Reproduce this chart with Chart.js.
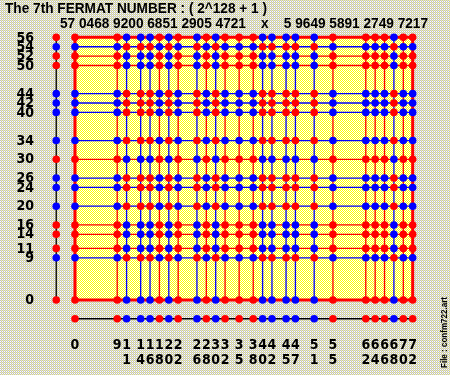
<!DOCTYPE html>
<html>
<head>
<meta charset="utf-8">
<script src="https://cdn.jsdelivr.net/npm/chart.js@4.4.1/dist/chart.umd.min.js"></script>
<style>
  body { margin: 0; background: #d8d8c8; }
  canvas { display: block; }
</style>
</head>
<body>
<canvas id="mycanvas" width="450" height="375"></canvas>
<script>
// signed binary digits (NAF) of the two factors of F7
var titleText = 'The 7th FERMAT NUMBER : ( 2^128 + 1 )';
var factorText = '57 0468 9200 6851 2905 4721    x    5 9649 5891 2749 7217';
var fileText = 'File : confm722.art';

// vertical axis: 5 9649 5891 2749 7217
var rows = [0, 9, 11, 14, 16, 20, 24, 26, 30, 34, 40, 42, 44, 50, 52, 54, 56];
var rowSigns = [1, -1, 1, 1, 1, -1, -1, -1, 1, -1, -1, -1, -1, 1, 1, -1, 1];

// horizontal axis: 57 0468 9200 6851 2905 4721
var cols = [0, 9, 11, 14, 16, 18, 20, 22, 26, 28, 30, 32, 35, 38, 40, 42, 45, 47, 51, 55, 62, 64, 66, 68, 70, 72];
var colSigns = [1, 1, -1, -1, -1, 1, -1, 1, -1, 1, -1, 1, 1, 1, -1, -1, -1, -1, -1, 1, 1, 1, 1, -1, 1, 1];

var sideOffset = -4;

var RED = '#ff0000', BLUE = '#0000ff';
function col(s) { return s > 0 ? RED : BLUE; }

// layout constants (pixels per unit, origin)
var K = 4.69, X0 = 75, Y0 = 300;
var XMIN = -10, XMAX = 78, YMIN = -10, YMAX = 60;

var xLast = cols[cols.length - 1], yLast = rows[rows.length - 1];

var datasets = [];

// dots
var pts = [], ptColors = [];
for (var i = 0; i < rows.length; i++) {
	for (var j = 0; j < cols.length; j++) {
		pts.push({x: cols[j], y: rows[i]});
		ptColors.push(col(rowSigns[i] * colSigns[j]));
	}
	pts.push({x: sideOffset, y: rows[i]});
	ptColors.push(col(rowSigns[i]));
}
for (var j = 0; j < cols.length; j++) {
	pts.push({x: cols[j], y: sideOffset});
	ptColors.push(col(colSigns[j]));
}
datasets.push({
	type: 'scatter',
	data: pts,
	backgroundColor: ptColors,
	borderWidth: 0,
	pointRadius: 3.8,
	order: 0
});

function lineSet(a, b, color, w, ord) {
	return {
		type: 'line',
		data: [a, b],
		borderColor: color,
		borderWidth: w,
		pointRadius: 0,
		fill: false,
		tension: 0,
		order: ord
	};
}
for (var i = 0; i < rows.length; i++) {
	var edge = (i == 0 || i == rows.length - 1);
	datasets.push(lineSet({x: 0, y: rows[i]}, {x: xLast, y: rows[i]}, col(rowSigns[i]), edge ? 3 : 1.3, edge ? 1 : 3));
}
for (var j = 0; j < cols.length; j++) {
	var edge = (j == 0 || j == cols.length - 1);
	datasets.push(lineSet({x: cols[j], y: 0}, {x: cols[j], y: yLast}, col(colSigns[j]), edge ? 3 : 1.3, edge ? 1 : 2));
}
datasets.push(lineSet({x: sideOffset, y: 0}, {x: sideOffset, y: yLast}, '#000', 1.3, 4));
datasets.push(lineSet({x: 0, y: sideOffset}, {x: xLast, y: sideOffset}, '#000', 1.3, 4));

function makePattern(ctx, c) {
	var p = document.createElement('canvas');
	p.width = 2; p.height = 2;
	var pc = p.getContext('2d');
	pc.fillStyle = c[0]; pc.fillRect(0, 0, 1, 1);
	pc.fillStyle = c[1]; pc.fillRect(1, 0, 1, 1);
	pc.fillStyle = c[2]; pc.fillRect(0, 1, 1, 1);
	pc.fillStyle = c[3]; pc.fillRect(1, 1, 1, 1);
	return ctx.createPattern(p, 'repeat');
}

var LABEL_FONT = 'bold 14px "Liberation Sans Narrow", "Arial Narrow", "DejaVu Sans Condensed", Arial, sans-serif';

var decor = {
	id: 'decor',
	beforeDraw: function(chart) {
		var ctx = chart.ctx;
		ctx.save();
		ctx.fillStyle = makePattern(ctx, ['#c0c0c0', '#f4f4a0', '#ffffff', '#c0c0c0']);
		ctx.fillRect(0, 0, chart.width, chart.height);
		ctx.restore();
	},
	beforeDatasetsDraw: function(chart) {
		var ctx = chart.ctx, xs = chart.scales.x, ys = chart.scales.y;
		var l = xs.getPixelForValue(0), r = xs.getPixelForValue(xLast);
		var t = ys.getPixelForValue(yLast), b = ys.getPixelForValue(0);
		ctx.save();
		ctx.fillStyle = makePattern(ctx, ['#ffff00', '#ffffff', '#ffffff', '#ffff00']);
		ctx.fillRect(l, t, r - l, b - t);
		ctx.restore();
	},
	afterDraw: function(chart) {
		var ctx = chart.ctx, xs = chart.scales.x, ys = chart.scales.y;
		ctx.save();
		ctx.fillStyle = '#000';
		ctx.textBaseline = 'alphabetic';
		ctx.textAlign = 'left';
		ctx.font = 'bold 15px "Liberation Sans", Arial, sans-serif';
		ctx.fillText(titleText, 5, 13, 262);
		ctx.font = 'bold 14px "Liberation Sans", Arial, sans-serif';
		ctx.fillText(factorText, 60, 28, 368);

		// left labels
		ctx.font = LABEL_FONT;
		ctx.textAlign = 'right';
		ctx.textBaseline = 'middle';
		for (var i = rows.length - 1; i >= 0; i--) {
			ctx.fillText(String(rows[i]), 34, ys.getPixelForValue(rows[i]) + 0.5);
		}
		// bottom labels, tens over units
		ctx.textAlign = 'center';
		for (var j = 0; j < cols.length; j++) {
			var x = xs.getPixelForValue(cols[j]);
			if (cols[j] < 10) {
				ctx.fillText(String(cols[j]), x, 345);
			} else {
				ctx.fillText(String(Math.floor(cols[j] / 10)), x, 345);
				ctx.fillText(String(cols[j] % 10), x, 360);
			}
		}
		// file name
		ctx.translate(447, 368);
		ctx.rotate(-Math.PI / 2);
		ctx.textAlign = 'left';
		ctx.textBaseline = 'alphabetic';
		ctx.font = 'bold 9px "Liberation Sans", Arial, sans-serif';
		ctx.fillText(fileText, 0, 0, 71);
		ctx.restore();
	}
};

var ctx = document.getElementById('mycanvas');

var chart = new Chart(ctx, {
	type: 'scatter',
	data: { datasets: datasets },
	options: {
		responsive: false,
		animation: false,
		events: [],
		layout: {
			padding: {
				left: X0 + XMIN * K,
				right: 450 - (X0 + XMAX * K),
				top: Y0 - YMAX * K,
				bottom: 375 - (Y0 - YMIN * K)
			}
		},
		scales: {
			x: { type: 'linear', min: XMIN, max: XMAX, display: false },
			y: { type: 'linear', min: YMIN, max: YMAX, display: false }
		},
		plugins: {
			legend: { display: false },
			tooltip: { enabled: false }
		}
	},
	plugins: [decor]
});
</script>
</body>
</html>
